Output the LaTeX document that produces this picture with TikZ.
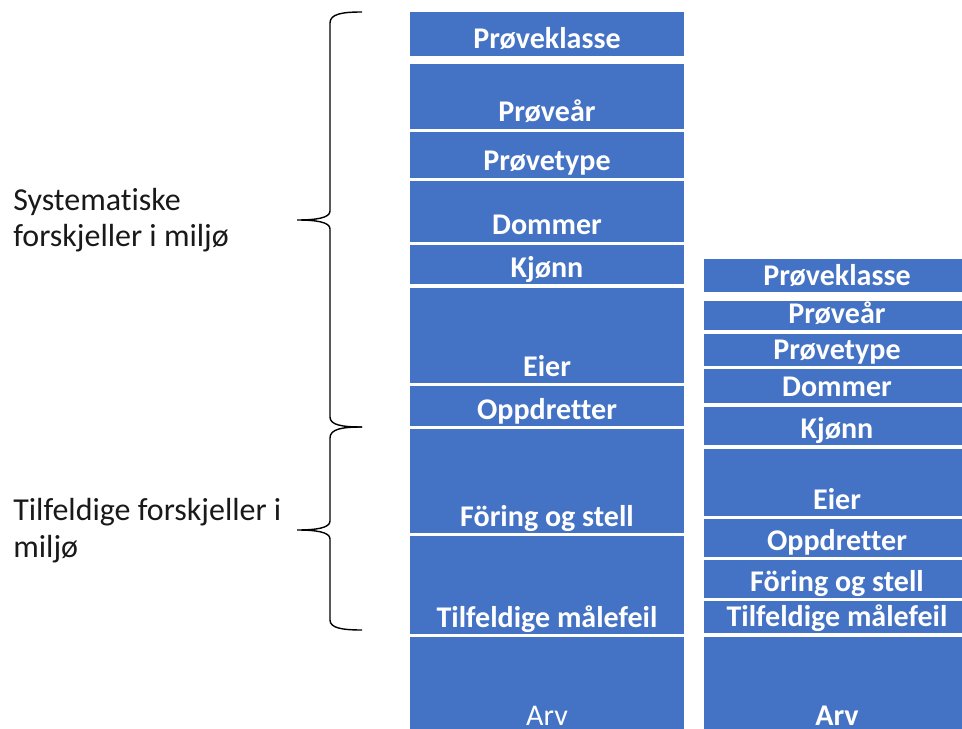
\documentclass[tikz,border=0pt]{standalone}
\usepackage{fontspec}
\setmainfont[Ligatures={NoCommon}]{Carlito}
\usetikzlibrary{calc}
\definecolor{lagblaa}{RGB}{68, 114, 196}

% one layer of a stack: name, left, right, top, bottom, text
\newcommand{\lag}[6]{%
	\fill[lagblaa] (#2,#4) rectangle (#3,#5);
	\node[lagtekst] (#1) at ({(#2+#3)/2},#5-7) {#6};}

\begin{document}
\begin{tikzpicture}[
	x=0.02cm, y=-0.02cm,
	% Styles for layer text, side labels and braces
	lagtekst/.style={anchor=base, text=white, font=\fontsize{17.1}{20}\selectfont\bfseries, inner sep=0pt},
	sidetekst/.style={anchor=base west, align=left, inner sep=0pt, font=\fontsize{18.2}{20.5}\selectfont, text=black!90},
	klamme/.style={draw=black, line width=0.8pt}
	]
	\useasboundingbox (0,0) rectangle (962,729);
	\clip (0,0) rectangle (962,729);
	
	% ==========================================
	% 1. LEFT STACK
	% ==========================================
	\lag{vKlasse}{410}{684}{12}{56}{Prøveklasse}
	\lag{vAar}{410}{684}{64}{129}{Prøveår}
	\lag{vType}{410}{684}{132}{178}{Prøvetype}
	\lag{vDommer}{410}{684}{181}{242}{Dommer}
	\lag{vKjonn}{410}{684}{245}{284}{Kjønn}
	\lag{vEier}{410}{684}{288}{383}{Eier}
	\lag{vOppdr}{410}{684}{386}{426}{Oppdretter}
	\lag{vStell}{410}{684}{429}{533}{Föring og stell}
	\lag{vFeil}{410}{684}{536}{634}{Tilfeldige målefeil}
	% Arv runs out of the picture
	\fill[lagblaa] (410,637) rectangle (684,760);
	\node[lagtekst, font=\fontsize{17.1}{20}\selectfont] (vArv) at (547,725) {Arv};
	
	% ==========================================
	% 2. RIGHT STACK
	% ==========================================
	\lag{hKlasse}{704}{970}{259}{292}{Prøveklasse}
	\lag{hAar}{704}{970}{301}{330}{Prøveår}
	\lag{hType}{704}{970}{334}{366}{Prøvetype}
	\lag{hDommer}{704}{970}{369}{403}{Dommer}
	\lag{hKjonn}{704}{970}{407}{445}{Kjønn}
	\lag{hEier}{704}{970}{449}{516}{Eier}
	\lag{hOppdr}{704}{970}{519}{557}{Oppdretter}
	\lag{hStell}{704}{970}{560}{598}{Föring og stell}
	\lag{hFeil}{704}{970}{601}{633}{Tilfeldige målefeil}
	\fill[lagblaa] (704,637) rectangle (970,760);
	\node[lagtekst] (hArv) at (837,725) {Arv};
	
	% ==========================================
	% 3. BRACES AND SIDE LABELS
	% ==========================================
	\draw[klamme] (362,12) .. controls (342,12) and (330,14) .. (330,23) -- (330,211)
		.. controls (330,218) and (316,220) .. (297,220)
		.. controls (316,220) and (330,222) .. (330,229) -- (330,417)
		.. controls (330,425) and (342,427) .. (362,427);
	\node[sidetekst] (systematisk) at (13,247) {Systematiske\\forskjeller i miljø};
	
	\draw[klamme] (362,427) .. controls (342,427) and (330,429) .. (330,438) -- (330,521)
		.. controls (330,528) and (316,530) .. (297,530)
		.. controls (316,530) and (330,532) .. (330,539) -- (330,620)
		.. controls (330,628) and (342,630) .. (362,630);
	\node[sidetekst] (tilfeldig) at (13,557) {Tilfeldige forskjeller i\\miljø};
	
\end{tikzpicture}
\end{document}
